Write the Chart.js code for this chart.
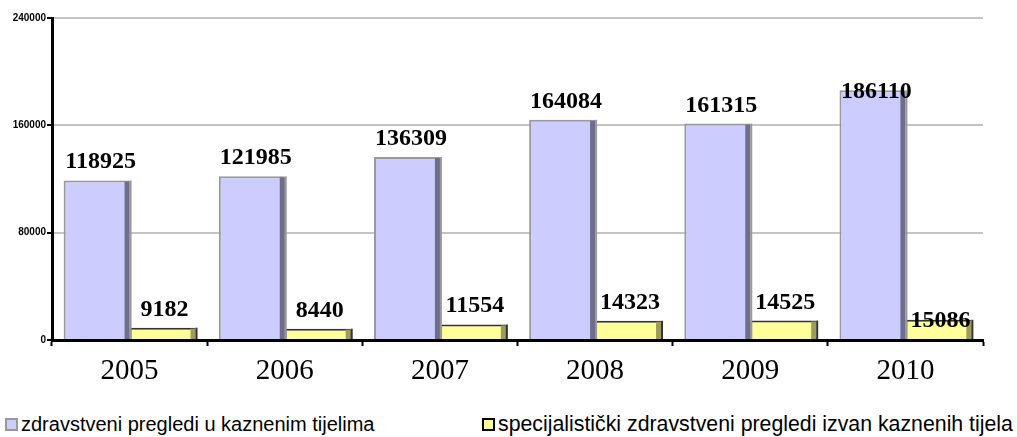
<!DOCTYPE html>
<html>
<head>
<meta charset="utf-8">
<script src="https://cdn.jsdelivr.net/npm/chart.js@4"></script>
<style>
  body { margin: 0; background: #fff; }
  #wrap { position: relative; width: 1017px; height: 437px; }
  #legend { position: absolute; left: 0; top: 413px; width: 1017px; height: 24px;
    font-family: "Liberation Sans", Arial, sans-serif; font-size: 20px; color: #000; }
  .item { position: absolute; top: 0; white-space: nowrap; line-height: 22px; }
  .item.second { font-size: 21.3px; }
  .box { display: inline-block; width: 9px; height: 9px; border: 2px solid; vertical-align: 0px; margin-right: 3px; }
</style>
</head>
<body>
<div id="wrap">
  <canvas id="chart" width="1017" height="400"></canvas>
  <div id="legend"></div>
</div>
<script>
// data
const years = ["2005", "2006", "2007", "2008", "2009", "2010"];
const unutar = [118925, 121985, 136309, 164084, 161315, 186110];
const izvan = [9182, 8440, 11554, 14323, 14525, 15086];
const seriesNames = [
  "zdravstveni pregledi u kaznenim tijelima",
  "specijalistički zdravstveni pregledi izvan kaznenih tijela",
];
const yTicks = [0, 80000, 160000, 240000];

// side shading like the old 3D excel bars
const sideShade = {
  id: "sideShade",
  afterDatasetDraw(chart, args) {
    const ctx = chart.ctx;
    const meta = args.meta;
    const shade = args.index === 0 ? "#6e6e8c" : "#9c9c5c";
    const edge = args.index === 0 ? "#999999" : "#333333";
    ctx.save();
    meta.data.forEach((bar) => {
      const right = bar.x + bar.width / 2;
      const h = bar.base - bar.y;
      ctx.fillStyle = shade;
      ctx.fillRect(right - 5, bar.y + 1, 5, h - 1);
      ctx.fillStyle = edge;
      ctx.fillRect(right, bar.y, 2, h);
    });
    ctx.restore();
  },
};

// value labels above the bars
const valueLabels = {
  id: "valueLabels",
  afterDatasetsDraw(chart) {
    const ctx = chart.ctx;
    ctx.save();
    ctx.font = "bold 24px 'Liberation Serif', 'Times New Roman', serif";
    ctx.fillStyle = "#000";
    ctx.textAlign = "center";
    chart.data.datasets.forEach((ds, di) => {
      chart.getDatasetMeta(di).data.forEach((bar, i) => {
        const last = i === years.length - 1;
        ctx.textBaseline = last ? "middle" : "alphabetic";
        const y = last ? bar.y + 1 : bar.y - 12;
        ctx.fillText(String(ds.data[i]), bar.x + (di === 0 ? 4 : 2), y);
      });
    });
    ctx.restore();
  },
};

const chart = new Chart(document.getElementById("chart"), {
  type: "bar",
  data: {
    labels: years,
    datasets: [
      {
        label: seriesNames[0],
        data: unutar,
        backgroundColor: "#ccccff",
        borderColor: "#999999",
        borderWidth: 2,
      },
      {
        label: seriesNames[1],
        data: izvan,
        backgroundColor: "#ffff99",
        borderColor: "#333333",
        borderWidth: 2,
      },
    ],
  },
  options: {
    responsive: false,
    animation: false,
    layout: { padding: { top: 18, right: 34, left: 0, bottom: 0 } },
    datasets: { bar: { barPercentage: 1, categoryPercentage: 0.85 } },
    plugins: { legend: { display: false }, tooltip: { enabled: false } },
    scales: {
      x: {
        afterFit: (s) => { s.height = 60; },
        grid: { drawOnChartArea: false, drawTicks: true, tickLength: 6, tickWidth: 2, tickColor: "#000", offset: true },
        border: { color: "#000", width: 3 },
        ticks: {
          color: "#000",
          padding: 8,
          font: { family: "'Liberation Serif', 'Times New Roman', serif", size: 29 },
        },
      },
      y: {
        min: 0,
        max: 240000,
        afterFit: (s) => { s.width = 52; },
        afterBuildTicks: (s) => { s.ticks = yTicks.map((v) => ({ value: v })); },
        grid: { color: "#c4c4c4", lineWidth: 2, tickLength: 5, tickColor: "#000", tickWidth: 2 },
        border: { color: "#000", width: 3 },
        ticks: {
          color: "#000",
          padding: 1,
          callback: (v) => String(v),
          font: { family: "'Liberation Sans', Arial, sans-serif", size: 10, weight: "bold" },
        },
      },
    },
  },
  plugins: [sideShade, valueLabels],
});

// legend
const legend = document.getElementById("legend");
const legendLeft = [5, 482];
chart.data.datasets.forEach((ds, i) => {
  const item = document.createElement("div");
  item.className = i === 0 ? "item" : "item second";
  item.style.left = legendLeft[i] + "px";
  item.innerHTML = `<span class="box" style="background:${ds.backgroundColor};border-color:${i === 0 ? "#999" : "#000"}"></span>${ds.label}`;
  legend.appendChild(item);
});
</script>
</body>
</html>
